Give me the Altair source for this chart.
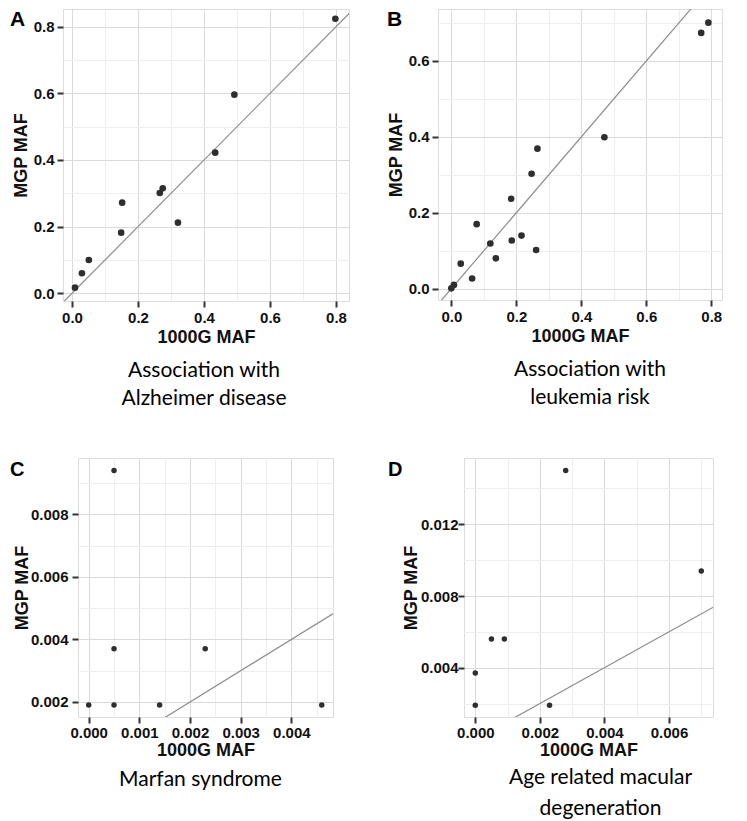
import json
import altair as alt
import pandas as pd

# ---------------- data ----------------
# A: Association with Alzheimer disease
a_x = [0.009, 0.030, 0.051, 0.149, 0.152, 0.266, 0.275, 0.321, 0.434, 0.492, 0.798]
a_y = [0.017, 0.060, 0.100, 0.182, 0.272, 0.301, 0.315, 0.212, 0.422, 0.596, 0.824]
# B: Association with leukemia risk
b_x = [0.000, 0.008, 0.029, 0.064, 0.078, 0.120, 0.137, 0.184, 0.186, 0.216, 0.247,
       0.261, 0.265, 0.471, 0.769, 0.791]
b_y = [0.001, 0.010, 0.066, 0.027, 0.170, 0.119, 0.080, 0.237, 0.127, 0.140, 0.303,
       0.102, 0.369, 0.399, 0.674, 0.701]
# C: Marfan syndrome
c_x = [0.0000, 0.0005, 0.0005, 0.0005, 0.0014, 0.0023, 0.0046]
c_y = [0.0019, 0.0019, 0.0037, 0.0094, 0.0019, 0.0037, 0.0019]
# D: Age related macular degeneration
d_x = [0.0000, 0.0000, 0.0005, 0.0009, 0.0023, 0.0028, 0.0070]
d_y = [0.0019, 0.0037, 0.0056, 0.0056, 0.0019, 0.0150, 0.0094]

# tick values (major) and minor grid values
a_xmaj = [0, 0.2, 0.4, 0.6, 0.8]; a_xmin = [0.1, 0.3, 0.5, 0.7]
a_ymaj = [0, 0.2, 0.4, 0.6, 0.8]; a_ymin = [0.1, 0.3, 0.5, 0.7]
b_xmaj = [0, 0.2, 0.4, 0.6, 0.8]; b_xmin = [0.1, 0.3, 0.5, 0.7]
b_ymaj = [0, 0.2, 0.4, 0.6];      b_ymin = [0.1, 0.3, 0.5, 0.7]
c_xmaj = [0, 0.001, 0.002, 0.003, 0.004]; c_xmin = [0.0005, 0.0015, 0.0025, 0.0035, 0.0045]
c_ymaj = [0.002, 0.004, 0.006, 0.008];    c_ymin = [0.003, 0.005, 0.007, 0.009]
d_xmaj = [0, 0.002, 0.004, 0.006];        d_xmin = [0.001, 0.003, 0.005, 0.007]
d_ymaj = [0.004, 0.008, 0.012];           d_ymin = [0.002, 0.006, 0.010, 0.014]

# axis domains
a_xdom = [-0.0273, 0.8394]; a_ydom = [-0.0231, 0.8531]
b_xdom = [-0.041, 0.833];   b_ydom = [-0.0298, 0.737]
c_xdom = [-0.000211, 0.004822]; c_ydom = [0.00152, 0.0098]
d_xdom = [-0.00035, 0.007363];  d_ydom = [0.00125, 0.0157]

AXFONT = "Liberation Sans"
CAPFONT = "Lato"


def make_axis(maj, mn, fmt, title, label_pad, title_pad):
    test = "indexof(%s, datum.value) >= 0" % json.dumps(maj)
    return alt.Axis(
        values=sorted(maj + mn),
        format=fmt,
        labelExpr="%s ? datum.label : ''" % test,
        labelOverlap=False,
        labelFlush=False,
        grid=True,
        gridColor={"condition": {"test": test, "value": "#dadada"}, "value": "#eeeeee"},
        gridWidth=1,
        tickColor={"condition": {"test": test, "value": "#333333"}, "value": "transparent"},
        tickWidth=2,
        tickSize=6,
        domain=False,
        labelFont=AXFONT,
        labelFontWeight="bold",
        labelFontSize=15,
        labelColor="#111111",
        labelPadding=label_pad,
        title=title,
        titleFont=AXFONT,
        titleFontWeight="bold",
        titleFontSize=18,
        titleColor="#111111",
        titlePadding=title_pad,
    )


def spacer_layer(xpos):
    return alt.Chart(pd.DataFrame({"t": [0]})).mark_rule(opacity=0).encode(
        x=alt.value(xpos), y=alt.value(0), y2=alt.value(1))


def panel(letter, xs, ys, caption, xdom, ydom, xmaj, xmn, ymaj, ymn, fmt,
          w, h, pt, letter_pos, letter_size, ax_pads, cap_offset, cap_dx, cap_lh,
          left_extent=None):
    df = pd.DataFrame({"x": xs, "y": ys})
    lo = min(xdom[0], ydom[0])
    hi = max(xdom[1], ydom[1])
    ldf = pd.DataFrame({"x": [lo, hi], "y": [lo, hi]})
    xs_ = alt.Scale(domain=xdom, nice=False, zero=False)
    ys_ = alt.Scale(domain=ydom, nice=False, zero=False)
    xa = make_axis(xmaj, xmn, fmt, "1000G MAF", ax_pads[0], ax_pads[1])
    ya = make_axis(ymaj, ymn, fmt, "MGP MAF", ax_pads[2], ax_pads[3])
    X = alt.X("x:Q", scale=xs_, axis=xa)
    Y = alt.Y("y:Q", scale=ys_, axis=ya)
    line = alt.Chart(ldf).mark_line(clip=True, color="#8c8c8c", strokeWidth=1.2).encode(x=X, y=Y)
    pts = alt.Chart(df).mark_circle(size=pt, color="#2e2e2e", opacity=1).encode(x=X, y=Y)
    lab = alt.Chart(pd.DataFrame({"t": [letter]})).mark_text(
        align="left", baseline="top", font=AXFONT, fontWeight="bold",
        fontSize=letter_size, color="#000000"
    ).encode(text="t:N", x=alt.value(letter_pos[0]), y=alt.value(letter_pos[1]))
    layers = [line, pts, lab]
    if left_extent is not None:
        layers.append(spacer_layer(left_extent))
    return alt.layer(*layers).properties(
        width=w, height=h,
        title=alt.TitleParams(
            text=caption, orient="bottom", anchor="middle", frame="group",
            font=CAPFONT, fontSize=21, fontWeight="normal", color="#000000",
            lineHeight=cap_lh, offset=cap_offset, dx=cap_dx,
        ),
    )


def spacer_chart():
    return spacer_layer(0).properties(
        width=1, height=1, view=alt.ViewBackground(strokeOpacity=0, fillOpacity=0))


pA = panel("A", a_x, a_y, ["Association with", "Alzheimer disease"], a_xdom, a_ydom,
           a_xmaj, a_xmin, a_ymaj, a_ymin, ".1f", 286, 292, 44, (-53, 0), 21,
           (3, 3, 3, 3), 14, -2, 28)
pB = panel("B", b_x, b_y, ["Association with", "leukemia risk"], b_xdom, b_ydom,
           b_xmaj, b_xmin, b_ymaj, b_ymin, ".1f", 284, 291, 44, (-51, 0), 21,
           (3, 3, 3, 3), 14, 10, 28, left_extent=-87)
pC = panel("C", c_x, c_y, "Marfan syndrome", c_xdom, c_ydom,
           c_xmaj, c_xmin, c_ymaj, c_ymin, ".3f", 255, 259, 30, (-68, 2), 20,
           (2, 1, 4, -1), 10, -5, 28)
pD = panel("D", d_x, d_y, ["Age related macular", "degeneration"], d_xdom, d_ydom,
           d_xmaj, d_xmin, d_ymaj, d_ymin, ".3f", 249, 259, 30, (-76, 2), 20,
           (2, 1, 0, 0), 8, 12, 31, left_extent=-98)

chart = alt.concat(
    spacer_chart(), pA, pB, spacer_chart(), pC, pD, columns=3,
    spacing={"row": 47, "column": 0},
).properties(
    padding=0, align={"row": "each", "column": "none"}
).configure_view(
    stroke="#808080", strokeWidth=1.8
).configure(background="white")

chart.save("out.html", embed_options={"renderer": "svg", "actions": False})
